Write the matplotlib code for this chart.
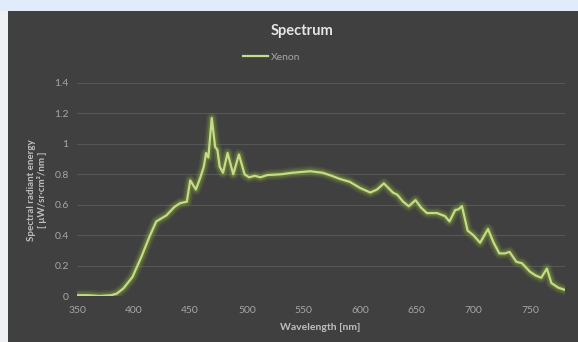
import matplotlib.pyplot as plt
from matplotlib.patches import Rectangle

# spectrum
wavelength = [350, 360, 370, 380, 385, 391, 399, 407, 414, 420, 429, 436, 441, 447,
              450, 455, 459, 462, 464, 466, 469, 472, 474, 476, 479, 483, 488, 493,
              498, 502, 507, 512, 518, 530, 540, 548, 556, 567, 575, 582, 591, 600,
              609, 615, 621, 629, 633, 638, 643, 649, 654, 659, 668, 675, 679, 684,
              687, 690, 695, 700, 706, 713, 718, 723, 728, 732, 738, 743, 750, 755,
              760, 765, 769, 775, 781]
xenon = [0.005, 0.005, 0.0, 0.005, 0.015, 0.05, 0.125, 0.26, 0.39, 0.49, 0.53, 0.585, 0.61, 0.62,
         0.76, 0.70, 0.78, 0.85, 0.94, 0.91, 1.17, 0.98, 0.96, 0.85, 0.81, 0.94, 0.80, 0.93,
         0.80, 0.78, 0.79, 0.78, 0.795, 0.80, 0.81, 0.815, 0.82, 0.81, 0.79, 0.77, 0.75, 0.71,
         0.68, 0.70, 0.74, 0.68, 0.665, 0.62, 0.59, 0.63, 0.58, 0.545, 0.545, 0.525, 0.49, 0.565,
         0.57, 0.59, 0.43, 0.40, 0.35, 0.44, 0.35, 0.28, 0.28, 0.29, 0.225, 0.215, 0.16, 0.135,
         0.12, 0.18, 0.085, 0.055, 0.04]
x_ticks = [350, 400, 450, 500, 550, 600, 650, 700, 750]
y_ticks = [0, 0.2, 0.4, 0.6, 0.8, 1.0, 1.2, 1.4]
y_tick_labels = ["0", "0.2", "0.4", "0.6", "0.8", "1", "1.2", "1.4"]

plt.rcParams['font.family'] = ['Lato', 'DejaVu Sans']

bg = '#404040'
txt = '#a6a6a6'

fig = plt.figure(figsize=(5.78, 3.42), dpi=100)
fig.patch.set_facecolor('#eef0f3')
# light strip on top and the dark chart panel
fig.patches.append(Rectangle((0, 1 - 11 / 342), 1, 11 / 342, transform=fig.transFigure,
                             facecolor='#e2ebf9', edgecolor='none', zorder=-2))
fig.patches.append(Rectangle((8 / 578, 0), 1, 1 - 11 / 342, transform=fig.transFigure,
                             facecolor=bg, edgecolor='none', zorder=-2))

ax = fig.add_axes([77 / 578, 46 / 342, 488 / 578, 213 / 342])
ax.set_zorder(2)
ax.patch.set_alpha(0)

# glow under the line
for lw, a in [(8, 0.10), (6, 0.15), (4, 0.25)]:
    ax.plot(wavelength, xenon, color='#8fb33a', lw=lw, alpha=a,
            solid_capstyle='round', solid_joinstyle='round')
line, = ax.plot(wavelength, xenon, color='#c4dc86', lw=1.6, label='Xenon',
                solid_joinstyle='round')

ax.set_xlim(350, 781)
ax.set_ylim(0, 1.4)
ax.set_xticks(x_ticks)
ax.set_yticks(y_ticks)
ax.set_yticklabels(y_tick_labels)
ax.grid(axis='y', color='#565656', lw=0.8)
ax.set_axisbelow(True)
for s in ax.spines.values():
    s.set_visible(False)
ax.tick_params(length=0, colors=txt, labelsize=7.5, pad=6)
ax.tick_params(axis='x', pad=7)

fig.text(302 / 578, 1 - 31 / 342, 'Spectrum', color='#e6e6e6', fontsize=10.5,
         fontweight='bold', ha='center', va='center')
fig.text(320 / 578, 1 - 327 / 342, 'Wavelength [nm]', color='#bfbfbf', fontsize=7.5,
         fontweight='bold', ha='center', va='center')
fig.text(37 / 578, 1 - 190 / 342, 'Spectral radiant energy\n[ μW/sr·cm²/nm ]', color='#bfbfbf',
         fontsize=7, fontweight='bold', ha='center', va='center', rotation=90,
         linespacing=1.1)

leg = fig.legend(handles=[line], loc='center', bbox_to_anchor=(272 / 578, 1 - 57 / 342),
                 frameon=False, fontsize=7.5, handlelength=2.4, handletextpad=0.3)
for t in leg.get_texts():
    t.set_color(txt)

fig.savefig('out.png', dpi=100, facecolor=fig.get_facecolor())
